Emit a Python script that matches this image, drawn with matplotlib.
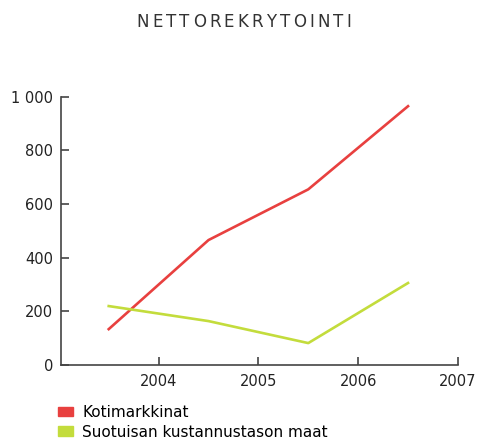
import matplotlib
matplotlib.use("Agg")
import matplotlib.pyplot as plt
from matplotlib.patches import Patch

years = [2003.5, 2004.5, 2005.5, 2006.5]
kotimarkkinat = [134, 466, 655, 965]
suotuisat = [220, 164, 82, 306]
series_names = ["Kotimarkkinat", "Suotuisan kustannustason maat"]
colors = ["#e8403f", "#c3dc3c"]
title = "NETTOREKRYTOINTI"

plt.rcParams["font.family"] = ["DejaVu Sans"]
fig = plt.figure(figsize=(4.79, 4.42), dpi=100)
ax = fig.add_axes([0.127, 0.174, 0.829, 0.607])

ax.plot(years, kotimarkkinat, color=colors[0], lw=1.9)
ax.plot(years, suotuisat, color=colors[1], lw=1.9)

ax.set_xlim(2003.02, 2007)
ax.set_ylim(0, 1000)
ax.set_xticks([2004, 2005, 2006, 2007])
ax.set_yticks([0, 200, 400, 600, 800, 1000])
ax.set_yticklabels(["0", "200", "400", "600", "800", "1 000"])
for s in ["top", "right"]:
    ax.spines[s].set_visible(False)
for s in ["left", "bottom"]:
    ax.spines[s].set_color("#444444")
    ax.spines[s].set_linewidth(1.2)
ax.tick_params(direction="in", length=6, width=1.2, color="#444444",
               labelsize=10.5, labelcolor="#222222")
ax.tick_params(axis="x", pad=6.5)
ax.tick_params(axis="y", pad=5.5)

# letter-spaced title, spread to a fixed width
renderer = fig.canvas.get_renderer()
W, H = fig.bbox.width, fig.bbox.height
title_width = 215
pieces = []
for ch in title:
    t = fig.text(0, 0, ch, fontsize=12, color="#333333", va="center")
    pieces.append((t, t.get_window_extent(renderer).width))
tracking = (title_width - sum(w for _, w in pieces)) / (len(pieces) - 1)
x = 244 - title_width / 2
for t, w in pieces:
    t.set_position((x / W, 1 - 22 / H))
    x += w + tracking

handles = [Patch(color=c) for c in colors]
fig.legend(handles, series_names, loc="upper left",
           bbox_to_anchor=(58 / W, 1 - 405 / H),
           frameon=False, fontsize=11, borderpad=0, borderaxespad=0,
           handlelength=1.0, handleheight=0.6,
           handletextpad=0.6, labelspacing=0.3)

fig.savefig("out.png", dpi=100)
